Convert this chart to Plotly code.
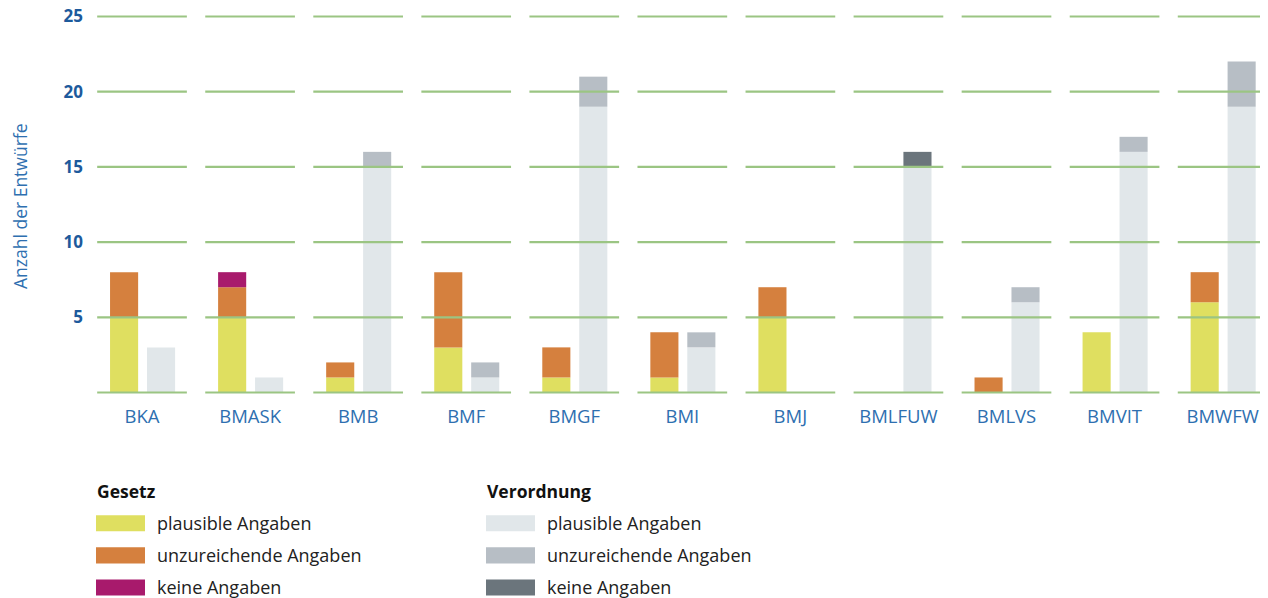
import plotly.graph_objects as go

categories = ["BKA", "BMASK", "BMB", "BMF", "BMGF", "BMI", "BMJ", "BMLFUW", "BMLVS", "BMVIT", "BMWFW"]

# Gesetz
gesetz_plausibel = [5, 5, 1, 3, 1, 1, 5, 0, 0, 4, 6]
gesetz_unzureichend = [3, 2, 1, 5, 2, 3, 2, 0, 1, 0, 2]
gesetz_keine = [0, 1, 0, 0, 0, 0, 0, 0, 0, 0, 0]

# Verordnung
verordnung_plausibel = [3, 1, 15, 1, 19, 3, 0, 15, 6, 16, 19]
verordnung_unzureichend = [0, 0, 1, 1, 2, 1, 0, 0, 1, 1, 3]
verordnung_keine = [0, 0, 0, 0, 0, 0, 0, 1, 0, 0, 0]

series_labels = ["plausible Angaben", "unzureichende Angaben", "keine Angaben"]
gesetz_colors = ["#dfdf60", "#d5803e", "#a81a6c"]
verordnung_colors = ["#e1e7ea", "#b7bec5", "#6b757c"]
group_titles = ["Gesetz", "Verordnung"]

y_ticks = [5, 10, 15, 20, 25]
grid_values = [0, 5, 10, 15, 20, 25]

FONT = "Open Sans"
BLUE = "#2e6fb0"
DARKBLUE = "#1d5a9c"
GRID = "#9bc583"

# the page body has an 8px margin: work in window pixels and shift
OFF = 8
W, H = 1268 - OFF, 598 - OFF

xs = list(range(len(categories)))
fig = go.Figure()


def add_stack(series_list, colors, offset, group):
    base = [0] * len(categories)
    for vals, col, lab in zip(series_list, colors, series_labels):
        fig.add_trace(go.Bar(
            x=xs, y=vals, base=list(base), offset=offset, width=0.26,
            marker=dict(color=col, line=dict(width=0)),
            name=f"{group}: {lab}", showlegend=False,
            hovertemplate="%{text}<br>" + group + " – " + lab + ": %{y}<extra></extra>",
            text=categories, textposition="none",
        ))
        base = [b + v for b, v in zip(base, vals)]


add_stack([gesetz_plausibel, gesetz_unzureichend, gesetz_keine], gesetz_colors, -0.296, "Gesetz")
add_stack([verordnung_plausibel, verordnung_unzureichend, verordnung_keine], verordnung_colors, 0.046, "Verordnung")

shapes = []
# segmented gridlines (one segment per category), drawn above bars
for i in xs:
    for g in grid_values:
        shapes.append(dict(type="line", xref="x", yref="y", x0=i - 0.415, x1=i + 0.415,
                           y0=g, y1=g, line=dict(color=GRID, width=2.2), layer="above"))

# plot area in window pixels
L, R, TOP, BOT = 88, 1268, 15.2, 393.8


def px_x(p):
    return (p - L) / (R - L)


def px_y(p):
    return (BOT - p) / (BOT - TOP)


annotations = []
legend_x = [96, 486]
row_y = [523, 555, 587]
for gx, title, cols in zip(legend_x, group_titles, [gesetz_colors, verordnung_colors]):
    annotations.append(dict(xref="paper", yref="paper", x=px_x(gx - 1), y=px_y(491), text=f"<b>{title}</b>",
                            showarrow=False, xanchor="left", yanchor="middle",
                            font=dict(family=FONT, size=17.5, color="#111111")))
    for ry, col, lab in zip(row_y, cols, series_labels):
        shapes.append(dict(type="rect", xref="paper", yref="paper",
                           x0=px_x(gx), x1=px_x(gx + 49), y0=px_y(ry - 8), y1=px_y(ry + 8),
                           fillcolor=col, line=dict(width=0)))
        annotations.append(dict(xref="paper", yref="paper", x=px_x(gx + 59), y=px_y(ry), text=lab,
                                showarrow=False, xanchor="left", yanchor="middle",
                                font=dict(family=FONT, size=18, color="#222222")))

annotations.append(dict(xref="paper", yref="paper", x=px_x(20), y=px_y(206), text="Anzahl der Entwürfe",
                        textangle=-90, showarrow=False, xanchor="center", yanchor="middle",
                        font=dict(family=FONT, size=17.5, color=BLUE)))

fig.update_layout(
    width=W, height=H,
    margin=dict(l=L - OFF, r=1268 - R, t=TOP - OFF, b=598 - BOT, autoexpand=False),
    barmode="overlay",
    plot_bgcolor="white", paper_bgcolor="white",
    shapes=shapes, annotations=annotations,
    showlegend=False,
    font=dict(family=FONT),
    xaxis=dict(range=[-0.5, 10.42], tickvals=xs, ticktext=categories, showgrid=False,
               zeroline=False, showline=False, ticks="", ticklabelstandoff=9,
               ticklabeloverflow="allow", automargin=False,
               tickfont=dict(family=FONT, size=18.5, color=BLUE)),
    yaxis=dict(range=[-0.1, 25.1], tickvals=y_ticks, showgrid=False, zeroline=False,
               showline=False, ticks="", ticklabelstandoff=4, ticklabeloverflow="allow",
               automargin=False,
               tickfont=dict(family=FONT, size=17, color=DARKBLUE, weight="bold")),
)

fig.write_html("out.html")
